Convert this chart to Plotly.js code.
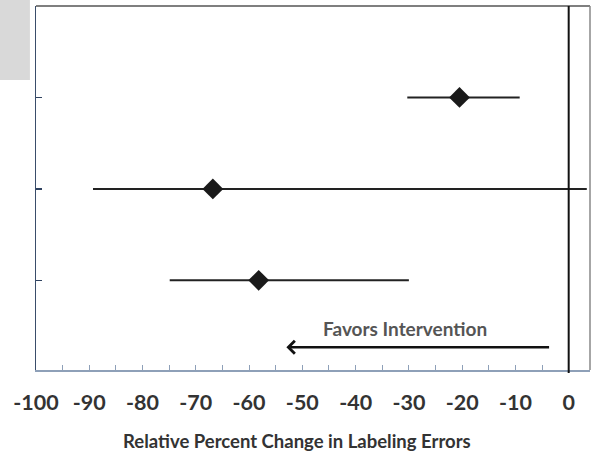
<!DOCTYPE html>
<html>
<head>
<meta charset="utf-8">
<script src="https://cdn.plot.ly/plotly-3.0.1.min.js"></script>
<style>html,body{margin:0;padding:0;background:#fff;}#chart{width:595px;height:459px;}</style>
</head>
<body>
<div id="chart"></div>
<script>
// Data
const yPos = [3, 2, 1];
const estimates = [-20.5, -66.8, -58.2];
const lower = [-30.3, -89.3, -74.9];
const upper = [-9.2, 3.4, -30.0];
const xTickVals = [-100, -90, -80, -70, -60, -50, -40, -30, -20, -10, 0];
const xTickText = ['-100', '-90', '-80', '-70', '-60', '-50', '-40', '-30', '-20', '-10', '0'];
const xTitle = 'Relative Percent Change in Labeling Errors';
const arrowLabel = 'Favors Intervention';

const errPlus = upper.map((u, i) => u - estimates[i]);
const errMinus = lower.map((l, i) => estimates[i] - l);

const FONT = 'Lato, "Open Sans", sans-serif';

const trace = {
  type: 'scatter',
  mode: 'markers',
  x: estimates,
  y: yPos,
  marker: {symbol: 'diamond', size: 16, color: '#1a1a1a'},
  error_x: {
    type: 'data', symmetric: false,
    array: errPlus, arrayminus: errMinus,
    color: '#222', thickness: 2, width: 0
  },
  hoverinfo: 'skip',
  cliponaxis: false
};

const layout = {
  width: 595, height: 459,
  margin: {l: 36, r: 5, t: 6, b: 89},
  paper_bgcolor: '#ffffff', plot_bgcolor: '#ffffff',
  showlegend: false,
  font: {family: FONT, color: '#333'},
  xaxis: {
    range: [-100, 4],
    tickvals: xTickVals, ticktext: xTickText,
    ticks: 'inside', ticklen: 5, tickcolor: '#8ea0b8', tickwidth: 1,
    minor: {dtick: 5, tick0: 0, ticks: 'inside', ticklen: 5, tickcolor: '#8ea0b8', tickwidth: 1, showgrid: false},
    showgrid: false, zeroline: false,
    showline: true, linecolor: '#8ea0b8', linewidth: 1.5,
    tickfont: {family: FONT, size: 21.5, color: '#333', weight: 'bold'},
    ticklabelstandoff: 13,
    fixedrange: true
  },
  yaxis: {
    range: [0.02, 4.0],
    tickvals: yPos, showticklabels: false,
    ticks: 'inside', ticklen: 6, tickcolor: '#2f4260', tickwidth: 1.5,
    showgrid: false, zeroline: false,
    showline: true, linecolor: '#3a4d6a', linewidth: 1.5,
    fixedrange: true
  },
  shapes: [
    // grey block top-left
    {type: 'rect', xref: 'paper', yref: 'paper', x0: -0.066, x1: -0.011, y0: 0.797, y1: 1.02, fillcolor: '#d9d9d9', line: {width: 0}, layer: 'below'},
    // top border
    {type: 'line', xref: 'paper', yref: 'paper', x0: 0, x1: 1, y0: 1, y1: 1, line: {color: '#555', width: 1.5}},
    // right border
    {type: 'line', xref: 'paper', yref: 'paper', x0: 1, x1: 1, y0: 0, y1: 1, line: {color: '#888', width: 1.5}},
    // zero line
    {type: 'line', xref: 'x', yref: 'paper', x0: 0, x1: 0, y0: -0.008, y1: 1, line: {color: '#111', width: 2}}
  ],
  annotations: [
    {x: -53, y: 0.27, xref: 'x', yref: 'y', ax: -3.4, ay: 0.27, axref: 'x', ayref: 'y',
     showarrow: true, arrowhead: 4, arrowsize: 1, arrowwidth: 2.5, arrowcolor: '#111', text: ''},
    {x: -30.8, y: 0.47, xref: 'x', yref: 'y', text: '<b>' + arrowLabel + '</b>', showarrow: false,
     font: {family: FONT, size: 19, color: '#555'}},
    {x: 0.471, y: -0.195, xref: 'paper', yref: 'paper', xanchor: 'center', yanchor: 'middle',
     text: '<b>' + xTitle + '</b>', showarrow: false,
     font: {family: FONT, size: 18.5, color: '#333'}}
  ]
};

Plotly.newPlot('chart', [trace], layout, {displayModeBar: false, staticPlot: true});
</script>
</body>
</html>
